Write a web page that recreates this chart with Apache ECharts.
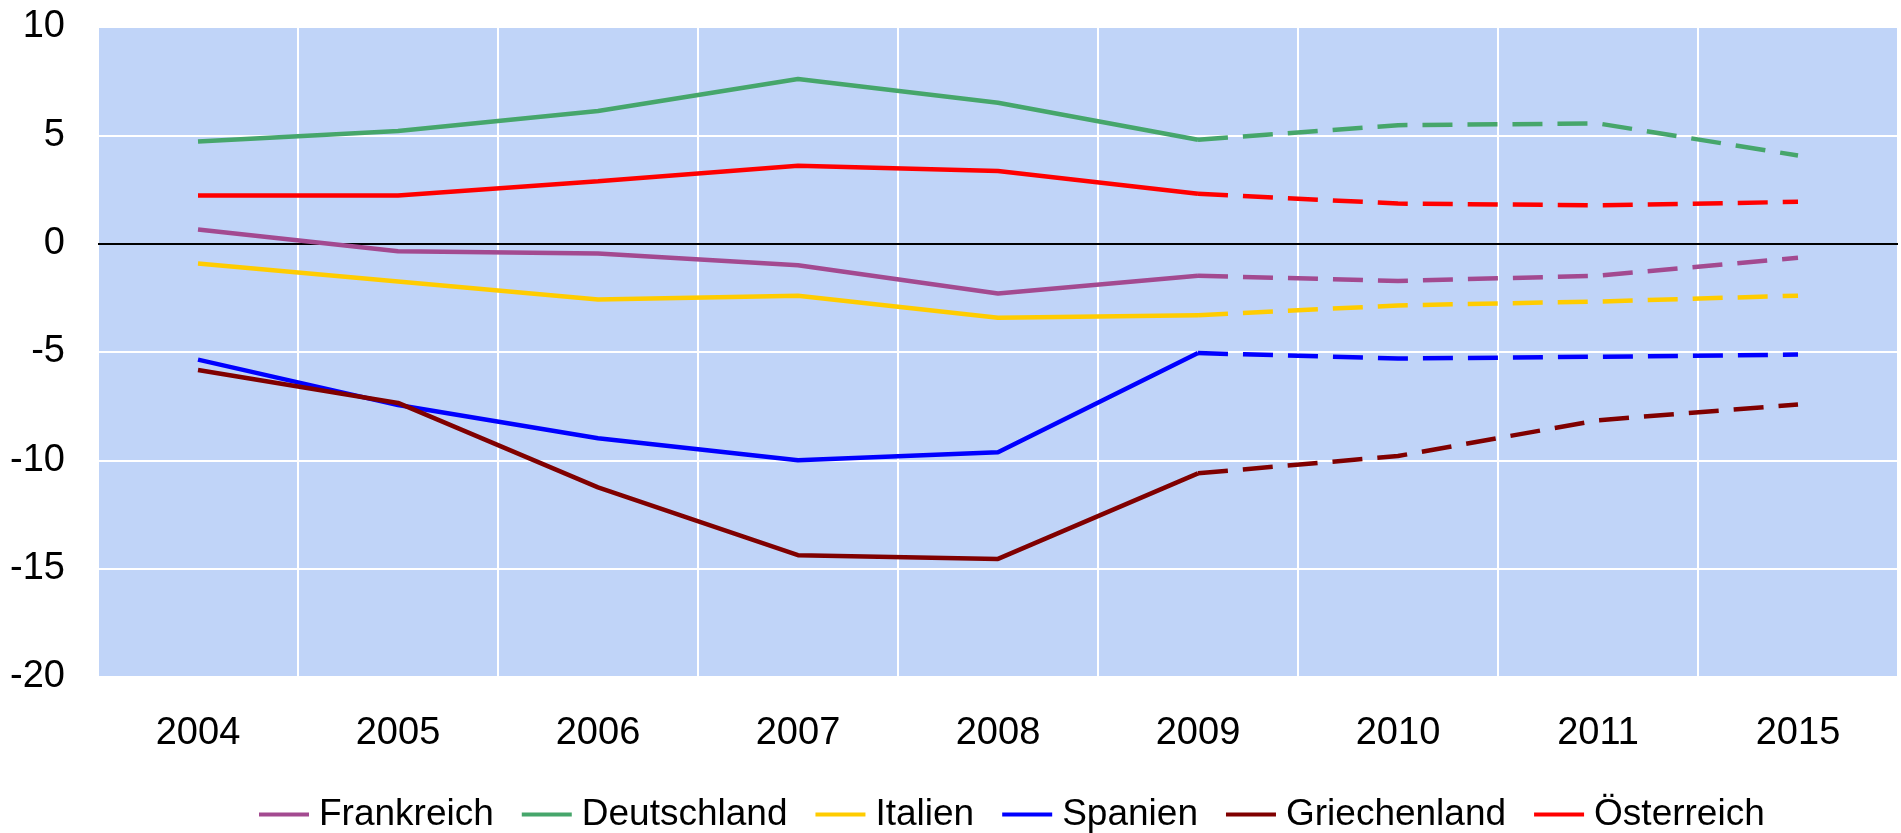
<!DOCTYPE html>
<html>
<head>
<meta charset="utf-8">
<script src="https://cdn.jsdelivr.net/npm/echarts@6/dist/echarts.min.js"></script>
<style>
  html, body { margin: 0; padding: 0; background: #fff; }
  #chart { width: 1901px; height: 833px; }
</style>
</head>
<body>
<div id="chart"></div>
<script>
// Jahre (letzte Kategorie springt auf 2015)
var years = ['2004', '2005', '2006', '2007', '2008', '2009', '2010', '2011', '2015'];

var frankreich   = [0.65, -0.35, -0.45, -1.0, -2.3, -1.48, -1.72, -1.48, -0.65];
var deutschland  = [4.72, 5.2, 6.12, 7.6, 6.5, 4.8, 5.47, 5.55, 4.07];
var italien      = [-0.92, -1.75, -2.58, -2.4, -3.42, -3.3, -2.85, -2.67, -2.4];
var spanien      = [-5.35, -7.45, -8.98, -10.0, -9.63, -5.05, -5.3, -5.22, -5.12];
var griechenland = [-5.83, -7.35, -11.25, -14.38, -14.55, -10.6, -9.8, -8.15, -7.42];
var oesterreich  = [2.22, 2.22, 2.88, 3.6, 3.35, 2.3, 1.85, 1.77, 1.93];

var splitIdx = 5; // ab 2009 gestrichelt

var countries = [
	{name: 'Frankreich',   color: '#a34a90', data: frankreich},
	{name: 'Deutschland',  color: '#46a66b', data: deutschland},
	{name: 'Italien',      color: '#ffcc00', data: italien},
	{name: 'Spanien',      color: '#0000ff', data: spanien},
	{name: 'Griechenland', color: '#800000', data: griechenland},
	{name: 'Österreich',   color: '#ff0000', data: oesterreich}
];

var fontFam = '"Liberation Sans", Arial, sans-serif';

var series = [];
countries.forEach(function(c){
	var solid = c.data.map(function(v, i){ return i <= splitIdx ? v : null; });
	var dashed = c.data.map(function(v, i){ return i >= splitIdx ? v : null; });
	series.push({
		name: c.name,
		type: 'line',
		data: solid,
		symbol: 'none',
		color: c.color,
		lineStyle: { color: c.color, width: 4.5 },
		z: 3
	});
	series.push({
		name: c.name,
		type: 'line',
		data: dashed,
		symbol: 'none',
		color: c.color,
		lineStyle: { color: c.color, width: 4.5, type: [30, 15] },
		z: 3
	});
});

// Nulllinie
series[0].markLine = {
	silent: true,
	symbol: 'none',
	label: { show: false },
	lineStyle: { color: '#000', width: 2, type: 'solid' },
	data: [{ yAxis: 0 }],
	z: 2
};

var myChart = echarts.init(document.getElementById('chart'));

var option = {
	animation: false,
	grid: {
		left: 98,
		right: 3,
		top: 27,
		bottom: 156,
		show: true,
		backgroundColor: '#c0d4f8',
		borderWidth: 0
	},
	legend: {
		left: 259,
		top: 796,
		padding: 0,
		icon: 'rect',
		itemWidth: 50,
		itemHeight: 4,
		itemGap: 28,
		data: countries.map(function(c){ return c.name; }),
		textStyle: { fontSize: 37, color: '#000', fontFamily: fontFam, padding: [0, 0, 0, 5] }
	},
	xAxis: {
		type: 'category',
		data: years,
		boundaryGap: true,
		axisLine: { show: false },
		axisTick: { show: false },
		axisLabel: { margin: 38, fontSize: 38, color: '#000', fontFamily: fontFam },
		splitLine: { show: true, interval: 0, lineStyle: { color: '#fff', width: 2 } }
	},
	yAxis: {
		type: 'value',
		min: -20,
		max: 10,
		interval: 5,
		axisLine: { show: false },
		axisTick: { show: false },
		axisLabel: { margin: 33, fontSize: 38, color: '#000', fontFamily: fontFam },
		splitLine: { show: true, lineStyle: { color: '#fff', width: 2 } }
	},
	series: series
};

myChart.setOption(option);
</script>
</body>
</html>
